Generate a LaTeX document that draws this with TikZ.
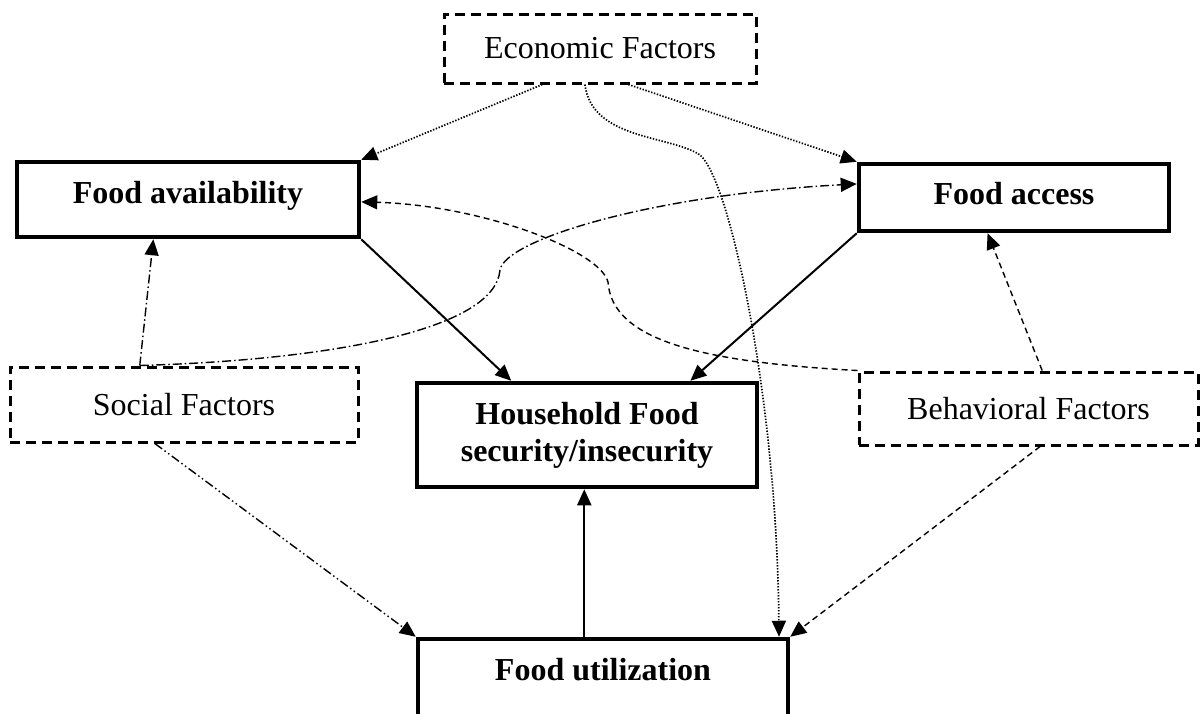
\documentclass[tikz,border=0pt]{standalone}
\usepackage{fontspec}
\setmainfont{Liberation Serif}
\usetikzlibrary{arrows.meta,calc}
\begin{document}
\begin{tikzpicture}[x=1pt,y=-1pt,
  solidbox/.style={draw,line width=4.5pt,rectangle,inner sep=0pt,font=\fontsize{32}{37}\selectfont\bfseries,align=center},
  factorbox/.style={draw,line width=3pt,dash pattern=on 10pt off 6pt,rectangle,inner sep=0pt,font=\fontsize{32}{37}\selectfont},
  tip/.style={-{Triangle[length=16pt,width=14pt]}},
  solidcon/.style={tip,line width=2pt},
  ecocon/.style={tip,line width=1.7pt,dash pattern=on 1.4pt off 1.6pt},
  socon/.style={tip,line width=1.4pt,dash pattern=on 9pt off 3pt on 1.5pt off 3pt},
  socon2/.style={tip,line width=1.4pt,dash pattern=on 9pt off 3pt on 1.5pt off 3pt on 1.5pt off 3pt},
  behcon/.style={tip,line width=1.4pt,dash pattern=on 6pt off 4pt}]
\clip (0,0) rectangle (1203,713);
\fill[white] (0,0) rectangle (1203,713);

\node[factorbox,minimum width=312pt,minimum height=69pt] (eco) at (600,48.5) {Economic Factors};
\node[solidbox,minimum width=342pt,minimum height=75pt,text height=22pt,text depth=14pt] (avail) at (188,199.5) {Food availability};
\node[solidbox,minimum width=310pt,minimum height=67pt,text height=22pt,text depth=8pt] (access) at (1014,197.5) {Food access};
\node[factorbox,minimum width=348pt,minimum height=75pt] (social) at (184,404.5) {Social Factors};
\node[factorbox,minimum width=339pt,minimum height=73pt] (behav) at (1028.5,408.5) {Behavioral Factors};
\node[solidbox,minimum width=340pt,minimum height=104pt] (house) at (587,435) {Household Food\\security/insecurity};
\node[solidbox,minimum width=370pt,minimum height=101pt,text height=22pt,text depth=40pt] (util) at (603,689.5) {Food utilization};

% economic factors
\draw[ecocon] ($(eco.south west)!0.317!(eco.south east)$) -- (avail.north east);
\draw[ecocon] ($(eco.south west)!0.59!(eco.south east)$) -- (access.north west);
\draw[ecocon] ($(eco.south west)!0.452!(eco.south east)$)
   .. controls (592,140) and (670,135) .. (700,155)
   .. controls (730,180) and (777,400) .. ($(util.north west)!0.97!(util.north east)$);

% pillars to household
\draw[solidcon] (avail.south east) -- ($(house.north west)!0.28!(house.north east)$);
\draw[solidcon] (access.south west) -- ($(house.north west)!0.80!(house.north east)$);
\coordinate (ubase) at ($(util.north west)!0.45!(util.north east)$);
\draw[solidcon] (ubase) -- (ubase |- house.south);

% social factors
\draw[socon] ($(social.north west)!0.374!(social.north east)$) -- ($(avail.south west)!0.40!(avail.south east)$);
\draw[socon] ($(social.north west)!0.374!(social.north east)$)
   .. controls (330,360) and (495,330) .. (500,270)
   .. controls (505,240) and (650,195) .. ($(access.north west)!0.31!(access.south west)$);
\draw[socon2] ($(social.south west)!0.417!(social.south east)$) -- (util.north west);

% behavioral factors
\draw[behcon] (behav.north west)
   .. controls (700,362) and (612,340) .. (608,282)
   .. controls (600,250) and (480,205) .. ($(avail.north east)!0.53!(avail.south east)$);
\draw[behcon] ($(behav.north west)!0.54!(behav.north east)$) -- ($(access.south west)!0.416!(access.south east)$);
\draw[behcon] ($(behav.south west)!0.534!(behav.south east)$) -- (util.north east);
\end{tikzpicture}
\end{document}
